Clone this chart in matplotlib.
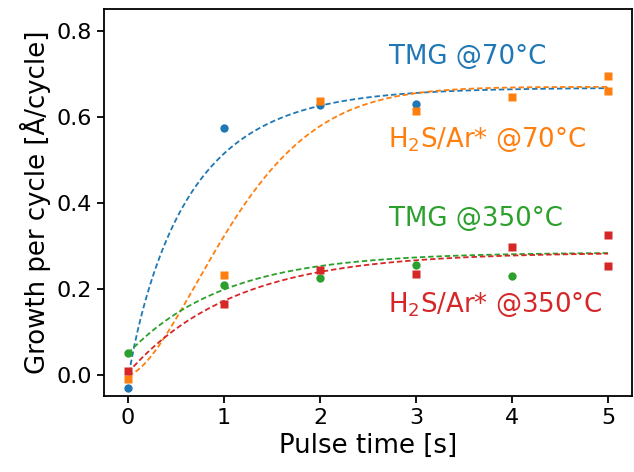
import numpy as np
import matplotlib
matplotlib.use("Agg")
import matplotlib.pyplot as plt

# Measured data
tmg70_x = [0, 1, 2, 3]
tmg70_y = [-0.030, 0.574, 0.628, 0.630]
h2s70_x = [0, 1, 2, 3, 4, 5, 5]
h2s70_y = [-0.009, 0.233, 0.638, 0.613, 0.647, 0.695, 0.660]
tmg350_x = [0, 1, 2, 3, 4]
tmg350_y = [0.052, 0.208, 0.225, 0.256, 0.229]
h2s350_x = [0, 1, 2, 3, 4, 5, 5]
h2s350_y = [0.008, 0.166, 0.245, 0.234, 0.298, 0.326, 0.253]

# Fit parameters (offset, amplitude, time constant, stretch exponent)
fit_tmg70 = (-0.015, 0.683, 0.64, 0.9)
fit_h2s70 = (0.0, 0.67, 1.30, 1.6)
fit_tmg350 = (0.05, 0.235, 1.0, 1.0)
fit_h2s350 = (0.005, 0.28, 1.1, 1.0)

labels = ["TMG @70°C", "H$_2$S/Ar* @70°C", "TMG @350°C", "H$_2$S/Ar* @350°C"]
label_pos = [(2.72, 0.723), (2.71, 0.531), (2.72, 0.347), (2.71, 0.147)]
colors = ["#1f77b4", "#ff7f0e", "#2ca02c", "#d62728"]


def model(x, p):
    c, a, tau, n = p
    return c + a * (1 - np.exp(-(x / tau) ** n))


fig = plt.figure(figsize=(6.34, 4.72), dpi=100)
ax = fig.add_axes([0.164, 0.161, 0.833, 0.820])

xx = np.linspace(0, 5, 300)
for p, col in zip([fit_tmg70, fit_h2s70, fit_tmg350, fit_h2s350], colors):
    ax.plot(xx, model(xx, p), ls="--", lw=1.3, color=col, dashes=(3, 1.6))

ax.plot(tmg70_x, tmg70_y, "o", color=colors[0], ms=6, mec="none")
ax.plot(h2s70_x, h2s70_y, "s", color=colors[1], ms=5.5, mec="none")
ax.plot(tmg350_x, tmg350_y, "o", color=colors[2], ms=6, mec="none")
ax.plot(h2s350_x, h2s350_y, "s", color=colors[3], ms=5.5, mec="none")

for lab, (tx, ty), col in zip(labels, label_pos, colors):
    ax.text(tx, ty, lab, color=col, fontsize=18.7, ha="left", va="baseline")

ax.set_xlim(-0.25, 5.25)
ax.set_ylim(-0.049, 0.851)
ax.set_xticks([0, 1, 2, 3, 4, 5])
ax.set_yticks([0.0, 0.2, 0.4, 0.6, 0.8])
ax.tick_params(labelsize=16, width=1.3, length=5)
for s in ax.spines.values():
    s.set_linewidth(1.3)
ax.set_xlabel("Pulse time [s]", fontsize=18.7)
ax.set_ylabel("Growth per cycle [Å/cycle]", fontsize=18.7)

fig.savefig("out.png", dpi=100)
